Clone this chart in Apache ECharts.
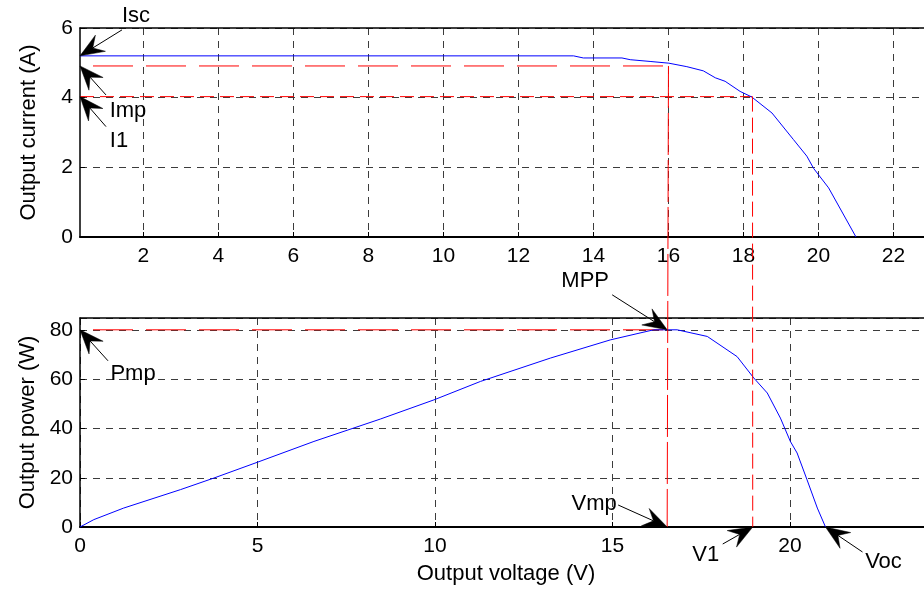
<!DOCTYPE html>
<html><head><meta charset="utf-8">
<script src="https://cdn.jsdelivr.net/npm/echarts@6/dist/echarts.min.js"></script>
<style>html,body{margin:0;padding:0;background:#fff}#c{width:924px;height:592px}</style>
</head><body><div id="c"></div>
<script>
// ---- data (top: I-V curve, bottom: P-V curve) ----
const V_TOP = [0.31, 13.47, 13.73, 14.76, 14.98, 15.51, 16.01, 16.49, 16.93, 17.25, 17.51, 17.91, 18.22, 18.76, 19.33, 19.69, 19.87, 20.27, 21.0];
const I_TOP = [5.2, 5.2, 5.14, 5.14, 5.09, 5.04, 4.99, 4.89, 4.77, 4.57, 4.47, 4.18, 4.02, 3.56, 2.80, 2.32, 1.97, 1.41, 0];
const V_BOT = [0, 0.39, 1.23, 2.83, 3.77, 4.99, 6.59, 8.46, 9.97, 11.28, 13.25, 14.94, 16.16, 16.54, 16.82, 17.67, 18.51, 18.98, 19.36, 19.73, 20.01, 20.2, 20.48, 20.77, 21.0];
const P_BOT = [0, 3.0, 7.7, 15.2, 19.9, 26.3, 34.8, 43.9, 51.7, 59.2, 68.7, 76.1, 80.2, 80.2, 80.2, 77.5, 69.3, 60.6, 54.5, 44.3, 34.8, 30.1, 19.2, 7.7, 0];
const TOP_X_TICKS = [2, 4, 6, 8, 10, 12, 14, 16, 18, 20, 22];
const TOP_X_RANGE = [0.31, 23];
const TOP_Y_RANGE = [0, 6];
const BOT_X_RANGE = [0, 24];
const BOT_Y_RANGE = [0, 85];
const ISC = 5.2, IMP = 4.91, I1 = 4.03, VMP_TOP = 16.0, V1_TOP = 18.24;
const PMP = 80.2, VMP = 16.54, V1 = 18.95, VOC = 21.0;
const X_NAME = 'Output voltage (V)';
const Y_NAME_TOP = 'Output current (A)';
const Y_NAME_BOT = 'Output power (W)';

const FONT = 'Liberation Sans, Arial, Helvetica, sans-serif';
const zip = (a, b) => a.map((v, i) => [v, b[i]]);
const chart = echarts.init(document.getElementById('c'), null, {renderer: 'canvas'});

const gridLine = {show: true, lineStyle: {color: '#3c3c3c', type: [7, 6], width: 1}};
const lbl = {color: '#000', fontSize: 21, fontFamily: FONT};
const borderAxis = (gi, range) => ({
  gridIndex: gi, type: 'value', position: 'top', min: range[0], max: range[1],
  axisLine: {show: true, onZero: false, lineStyle: {color: '#000', width: 1.5}},
  axisTick: {show: false}, axisLabel: {show: false}, splitLine: {show: false}
});

chart.setOption({
  animation: false,
  backgroundColor: '#fff',
  grid: [
    {left: 80, top: 28, height: 209, width: 851, containLabel: false, outerBoundsMode: 'none'},
    {left: 80, top: 318, height: 209, width: 852, containLabel: false, outerBoundsMode: 'none'}
  ],
  xAxis: [
    {gridIndex: 0, type: 'value', min: TOP_X_RANGE[0], max: TOP_X_RANGE[1],
     axisLine: {onZero: false, lineStyle: {color: '#000', width: 2}},
     axisTick: {inside: true, length: 5, lineStyle: {color: '#000'}, customValues: TOP_X_TICKS},
     axisLabel: Object.assign({margin: 9, customValues: TOP_X_TICKS}, lbl),
     splitLine: gridLine},
    borderAxis(0, TOP_X_RANGE),
    {gridIndex: 1, type: 'value', min: BOT_X_RANGE[0], max: BOT_X_RANGE[1], interval: 5,
     name: X_NAME, nameLocation: 'middle', nameGap: 36,
     nameTextStyle: {color: '#000', fontSize: 22, fontFamily: FONT},
     axisLine: {onZero: false, lineStyle: {color: '#000', width: 2}},
     axisTick: {inside: true, length: 5, lineStyle: {color: '#000'}},
     axisLabel: Object.assign({margin: 9, showMaxLabel: false}, lbl),
     splitLine: gridLine},
    borderAxis(1, BOT_X_RANGE)
  ],
  yAxis: [
    {gridIndex: 0, type: 'value', min: TOP_Y_RANGE[0], max: TOP_Y_RANGE[1], interval: 2,
     name: Y_NAME_TOP, nameLocation: 'middle', nameGap: 40,
     nameTextStyle: {color: '#000', fontSize: 22, fontFamily: FONT},
     axisLine: {show: true, onZero: false, lineStyle: {color: '#000', width: 1.5}},
     axisTick: {inside: true, length: 5, lineStyle: {color: '#000'}},
     axisLabel: Object.assign({margin: 7}, lbl),
     splitLine: gridLine},
    {gridIndex: 1, type: 'value', min: BOT_Y_RANGE[0], max: BOT_Y_RANGE[1], interval: 20,
     name: Y_NAME_BOT, nameLocation: 'middle', nameGap: 40,
     nameTextStyle: {color: '#000', fontSize: 22, fontFamily: FONT},
     axisLine: {show: true, onZero: false, lineStyle: {color: '#000', width: 1.5}},
     axisTick: {inside: true, length: 5, lineStyle: {color: '#000'}},
     axisLabel: Object.assign({margin: 7, showMaxLabel: false}, lbl),
     splitLine: gridLine}
  ],
  series: [
    {type: 'line', xAxisIndex: 0, yAxisIndex: 0, data: zip(V_TOP, I_TOP), showSymbol: false, z: 5,
     lineStyle: {color: '#0000ff', width: 1}},
    {type: 'line', xAxisIndex: 0, yAxisIndex: 0, data: [[TOP_X_RANGE[0], IMP], [VMP_TOP, IMP]], showSymbol: false, z: 4,
     lineStyle: {color: '#ff0000', width: 1, type: [40, 13], dashOffset: 40}},
    {type: 'line', xAxisIndex: 0, yAxisIndex: 0, data: [[TOP_X_RANGE[0], I1], [V1_TOP, I1]], showSymbol: false, z: 4,
     lineStyle: {color: '#ff0000', width: 1, type: [14, 6]}},
    {type: 'line', xAxisIndex: 2, yAxisIndex: 1, data: zip(V_BOT, P_BOT), showSymbol: false, z: 5,
     lineStyle: {color: '#0000ff', width: 1}},
    {type: 'line', xAxisIndex: 2, yAxisIndex: 1, data: [[BOT_X_RANGE[0], PMP], [VMP, PMP]], showSymbol: false, z: 4,
     lineStyle: {color: '#ff0000', width: 1, type: [40, 13], dashOffset: 40}}
  ]
});

// ---- annotations positioned from data points via the chart's scales ----
const px = (si, v) => chart.convertToPixel({seriesIndex: si}, v);
const g = [];
function vline(a, b, dash) {
  g.push({type: 'line', z: 50, shape: {x1: a[0], y1: a[1], x2: b[0], y2: b[1]},
          style: {stroke: '#ff0000', lineWidth: 1, lineDash: dash}});
}
function arrow(tip, dx, dy, text, tx, ty) {
  const tail = [tip[0] + dx, tip[1] + dy];
  const len = Math.hypot(dx, dy);
  const ux = -dx / len, uy = -dy / len;   // direction tail -> tip
  const nx = -uy, ny = ux;
  const L = 24, W = 9.5, N = 15;
  const back = [tip[0] - ux * L, tip[1] - uy * L];
  const notch = [tip[0] - ux * N, tip[1] - uy * N];
  g.push({type: 'line', z: 60, shape: {x1: tail[0], y1: tail[1], x2: notch[0], y2: notch[1]},
          style: {stroke: '#000', lineWidth: 1}});
  g.push({type: 'polygon', z: 61, shape: {points: [tip, [back[0] + nx * W, back[1] + ny * W], notch, [back[0] - nx * W, back[1] - ny * W]]},
          style: {fill: '#000', stroke: '#000', lineWidth: 0.5}});
  g.push({type: 'text', z: 62, x: tip[0] + tx, y: tip[1] + ty,
          style: {text: text, fill: '#000', fontSize: 22, fontFamily: FONT, align: 'center', verticalAlign: 'middle'}});
}
vline(px(0, [VMP_TOP, IMP]), px(3, [VMP, 0]), [42, 5]);
vline(px(0, [V1_TOP, I1]), px(3, [V1, 0]), [15, 6]);

arrow(px(0, [TOP_X_RANGE[0], ISC]), 42, -26, 'Isc', 56, -40);
arrow(px(0, [TOP_X_RANGE[0], IMP]), 26, 29, 'Imp', 48, 45);
arrow(px(0, [TOP_X_RANGE[0], I1]), 26, 30, 'I1', 39, 44);
arrow(px(3, [VMP, PMP]), -55, -35, 'MPP', -82, -49);
arrow(px(3, [BOT_X_RANGE[0], PMP]), 28, 31, 'Pmp', 53, 44);
arrow(px(3, [VMP, 0]), -49, -22, 'Vmp', -73, -23);
arrow(px(3, [V1, 0]), -30, 17, 'V1', -47, 28);
arrow(px(3, [VOC, 0]), 37, 25, 'Voc', 58, 35);
chart.setOption({graphic: g});
</script>
</body></html>
